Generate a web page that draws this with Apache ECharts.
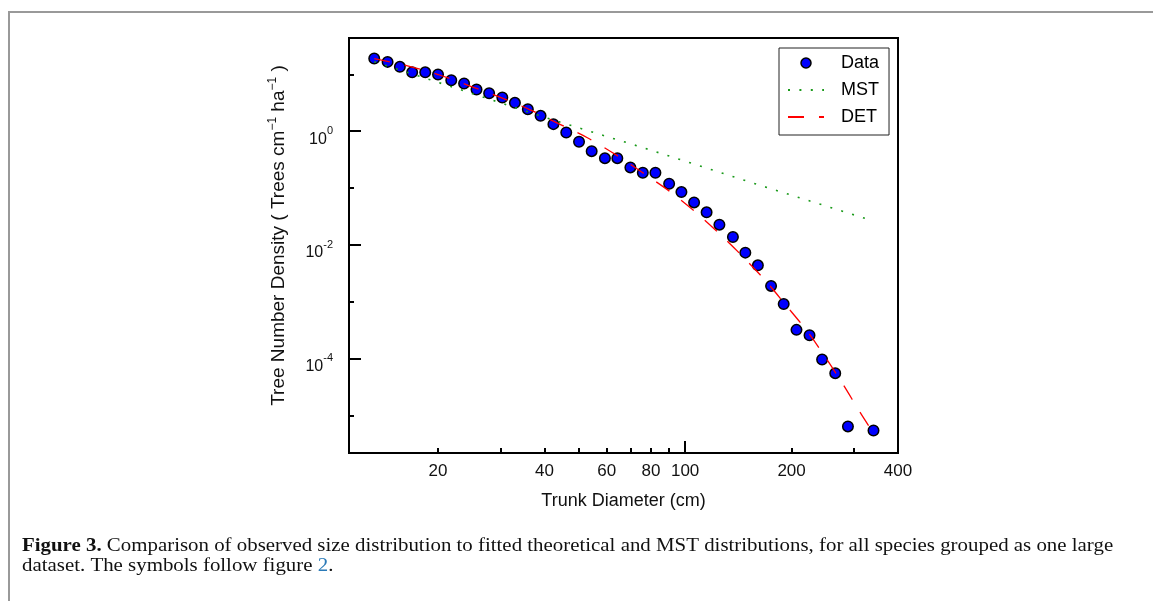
<!DOCTYPE html>
<html>
<head>
<meta charset="utf-8">
<title>Figure 3</title>
<script src="https://cdn.jsdelivr.net/npm/echarts@6/dist/echarts.min.js"></script>
<style>
  html, body { margin: 0; padding: 0; background: #fff; }
  #chart { width: 1153px; height: 601px; }
</style>
</head>
<body>
<div id="chart"></div>
<script>
// observed size distribution (diameter in cm, density in trees cm^-1 ha^-1)
const diameterData = [13.2, 14.4, 15.6, 16.9, 18.4, 20.0, 21.8, 23.7, 25.7, 27.9, 30.4, 33.0, 35.9,
  39.0, 42.4, 46.1, 50.1, 54.4, 59.3, 64.3, 70.0, 75.9, 82.4, 90.1, 97.6, 106, 115, 125,
  136.5, 148, 160.6, 175, 190, 206.5, 224.8, 244, 265.8, 288.7, 341];
const densityData = [18.9, 16.5, 13.5, 10.8, 10.8, 9.9, 7.85, 6.87, 5.39, 4.64, 3.9, 3.15, 2.43,
  1.86, 1.33, 0.95, 0.652, 0.446, 0.336, 0.336, 0.231, 0.186, 0.186, 0.119, 0.0851, 0.0561, 0.0375, 0.0228,
  0.0138, 0.00735, 0.0044, 0.00191, 0.00092, 0.000323, 0.00026, 9.75e-5, 5.6e-5, 6.5e-6, 5.5e-6];

// MST fit
const mstDiameter = [13.2, 19.8, 41.3, 76.2, 152.8, 341];
const mstDensity = [16.6, 7.36, 1.65, 0.511, 0.127, 0.0264];

// DET fit
const detDiameter = [13.2, 16.3, 20, 24.4, 29.8, 36.3, 43.8, 52.9, 64.1, 75.9, 90.7, 106.7, 124.8,
  145.6, 168.4, 192.8, 221, 249, 279.3, 311.3, 330.2];
const detDensity = [18.9, 14.2, 9.9, 6.34, 4.0, 2.40, 1.36, 0.766, 0.375, 0.186, 0.0865, 0.0385, 0.016,
  0.00625, 0.0024, 8.75e-4, 3.1e-4, 1.08e-4, 3.6e-5, 1.19e-5, 6.7e-6];

// axis ticks and labels
const xTickValues = [20, 30, 40, 50, 60, 70, 80, 90, 100, 200, 300, 400];
const xLabelValues = [20, 40, 60, 80, 100, 200, 400];
const xMajorTicks = [100];
const yTickExponents = [1, 0, -1, -2, -3, -4, -5];
const yLabelExponents = [0, -2, -4];

const xMin = Math.log10(11.2);
const xMax = Math.log10(400);
const yMin = -5.654;
const yMax = 1.637;

const lg = v => Math.log10(v);
const pairs = (xs, ys) => xs.map((x, i) => [lg(x), lg(ys[i])]);

const FONT = 'Liberation Sans';
const chart = echarts.init(document.getElementById('chart'));

const noSymbol = { color: 'rgba(0,0,0,0)', borderWidth: 0 };

const option = {
  animation: false,
  backgroundColor: '#fff',
  grid: {
    left: 349, top: 38, right: 255, bottom: 148,
    show: true, borderColor: '#000', borderWidth: 2
  },
  legend: {
    orient: 'vertical',
    left: 779, top: 48,
    padding: [6, 10, 9, 8],
    itemWidth: 36, itemHeight: 10, itemGap: 9,
    borderColor: '#222', borderWidth: 1,
    backgroundColor: '#fff',
    textStyle: { fontFamily: FONT, fontSize: 18, color: '#000', padding: [0, 0, 0, 12], lineHeight: 18 },
    data: [
      { name: 'Data', icon: 'circle', itemStyle: { color: '#0000ff', borderColor: '#000', borderWidth: 1.5 } },
      { name: 'MST', itemStyle: noSymbol },
      { name: 'DET', itemStyle: noSymbol }
    ]
  },
  xAxis: [
    {
      type: 'value', min: xMin, max: xMax, position: 'bottom',
      axisLine: { show: true, onZero: false, lineStyle: { color: '#000', width: 2 } },
      axisTick: { show: true, inside: true, length: 5, lineStyle: { color: '#000', width: 2 },
        customValues: xTickValues.map(lg) },
      axisLabel: { show: true, margin: 10, fontFamily: FONT, fontSize: 17, color: '#111',
        customValues: xLabelValues.map(lg),
        formatter: v => String(Math.round(Math.pow(10, v))) },
      splitLine: { show: false },
      name: 'Trunk Diameter (cm)', nameLocation: 'middle', nameGap: 39,
      nameTextStyle: { fontFamily: FONT, fontSize: 18, color: '#111' }
    },
    {
      type: 'value', min: xMin, max: xMax, position: 'bottom', offset: 0,
      axisLine: { show: false, onZero: false },
      axisTick: { show: true, inside: true, length: 12, lineStyle: { color: '#000', width: 2 },
        customValues: xMajorTicks.map(lg) },
      axisLabel: { show: false },
      splitLine: { show: false }
    }
  ],
  yAxis: [
    {
      type: 'value', min: yMin, max: yMax, position: 'left',
      axisLine: { show: true, onZero: false, lineStyle: { color: '#000', width: 2 } },
      axisTick: { show: true, inside: true, length: 5, lineStyle: { color: '#000', width: 2 },
        customValues: yTickExponents },
      axisLabel: { show: true, margin: 16, fontFamily: FONT, color: '#111',
        customValues: yLabelExponents,
        padding: [10, 0, 0, 0],
        formatter: v => '{b|10}{s|' + Math.round(v) + '}',
        rich: {
          b: { fontFamily: FONT, fontSize: 16, color: '#111', lineHeight: 22, verticalAlign: 'bottom' },
          s: { fontFamily: FONT, fontSize: 11, color: '#111', lineHeight: 12, verticalAlign: 'top' }
        } },
      splitLine: { show: false },
      name: 'Tree Number Density ( Trees cm{s|\u22121} ha{s|\u22121} )',
      nameLocation: 'middle', nameGap: 58, nameRotate: 90,
      nameTextStyle: {
        fontFamily: FONT, fontSize: 19, color: '#111', lineHeight: 24,
        padding: [0, 0, 0, 20],
        rich: {
          s: { fontFamily: FONT, fontSize: 12, color: '#111', lineHeight: 12, verticalAlign: 'top' }
        }
      }
    },
    {
      type: 'value', min: yMin, max: yMax, position: 'left', offset: 0,
      axisLine: { show: false, onZero: false },
      axisTick: { show: true, inside: true, length: 12, lineStyle: { color: '#000', width: 2 },
        customValues: yLabelExponents },
      axisLabel: { show: false },
      splitLine: { show: false }
    }
  ],
  series: [
    {
      name: 'Data', type: 'scatter', xAxisIndex: 0, yAxisIndex: 0,
      data: pairs(diameterData, densityData),
      symbol: 'circle', symbolSize: 10.5,
      itemStyle: { color: '#0000ff', borderColor: '#000', borderWidth: 1.5, opacity: 1 },
      z: 2
    },
    {
      name: 'MST', type: 'line', xAxisIndex: 0, yAxisIndex: 0,
      data: pairs(mstDiameter, mstDensity),
      showSymbol: false, symbol: 'none', smooth: false,
      lineStyle: { color: '#1a9a1a', width: 1.6, type: [2, 9.4] },
      itemStyle: { color: '#1a9a1a' },
      z: 3
    },
    {
      name: 'DET', type: 'line', xAxisIndex: 0, yAxisIndex: 0,
      data: pairs(detDiameter, detDensity),
      showSymbol: false, symbol: 'none', smooth: 0.3,
      lineStyle: { color: '#ff0000', width: 1.3, type: [16, 15] },
      itemStyle: { color: '#ff0000' },
      z: 4
    }
  ],
  graphic: [
    {
      type: 'polyline',
      shape: { points: [[9, 601], [9, 12], [1153, 12]] },
      style: { stroke: '#999', lineWidth: 2, fill: null },
      silent: true
    },
    {
      type: 'text', x: 22, y: 546, scaleX: 1.16,
      style: {
        text: '{b|Figure 3.} Comparison of observed size distribution to fitted theoretical and MST distributions, for all species grouped as one large',
        font: '18px "Liberation Serif"', fill: '#111', verticalAlign: 'middle',
        rich: { b: { fontFamily: 'Liberation Serif', fontSize: 18, fontWeight: 'bold', fill: '#111' } }
      },
      silent: true
    },
    {
      type: 'text', x: 22, y: 566, scaleX: 1.16,
      style: {
        text: 'dataset. The symbols follow figure {l|2}.',
        font: '18px "Liberation Serif"', fill: '#111', verticalAlign: 'middle',
        rich: { l: { fontFamily: 'Liberation Serif', fontSize: 18, fill: '#2a7ab8' } }
      },
      silent: true
    }
  ]
};

chart.setOption(option);
</script>
</body>
</html>
